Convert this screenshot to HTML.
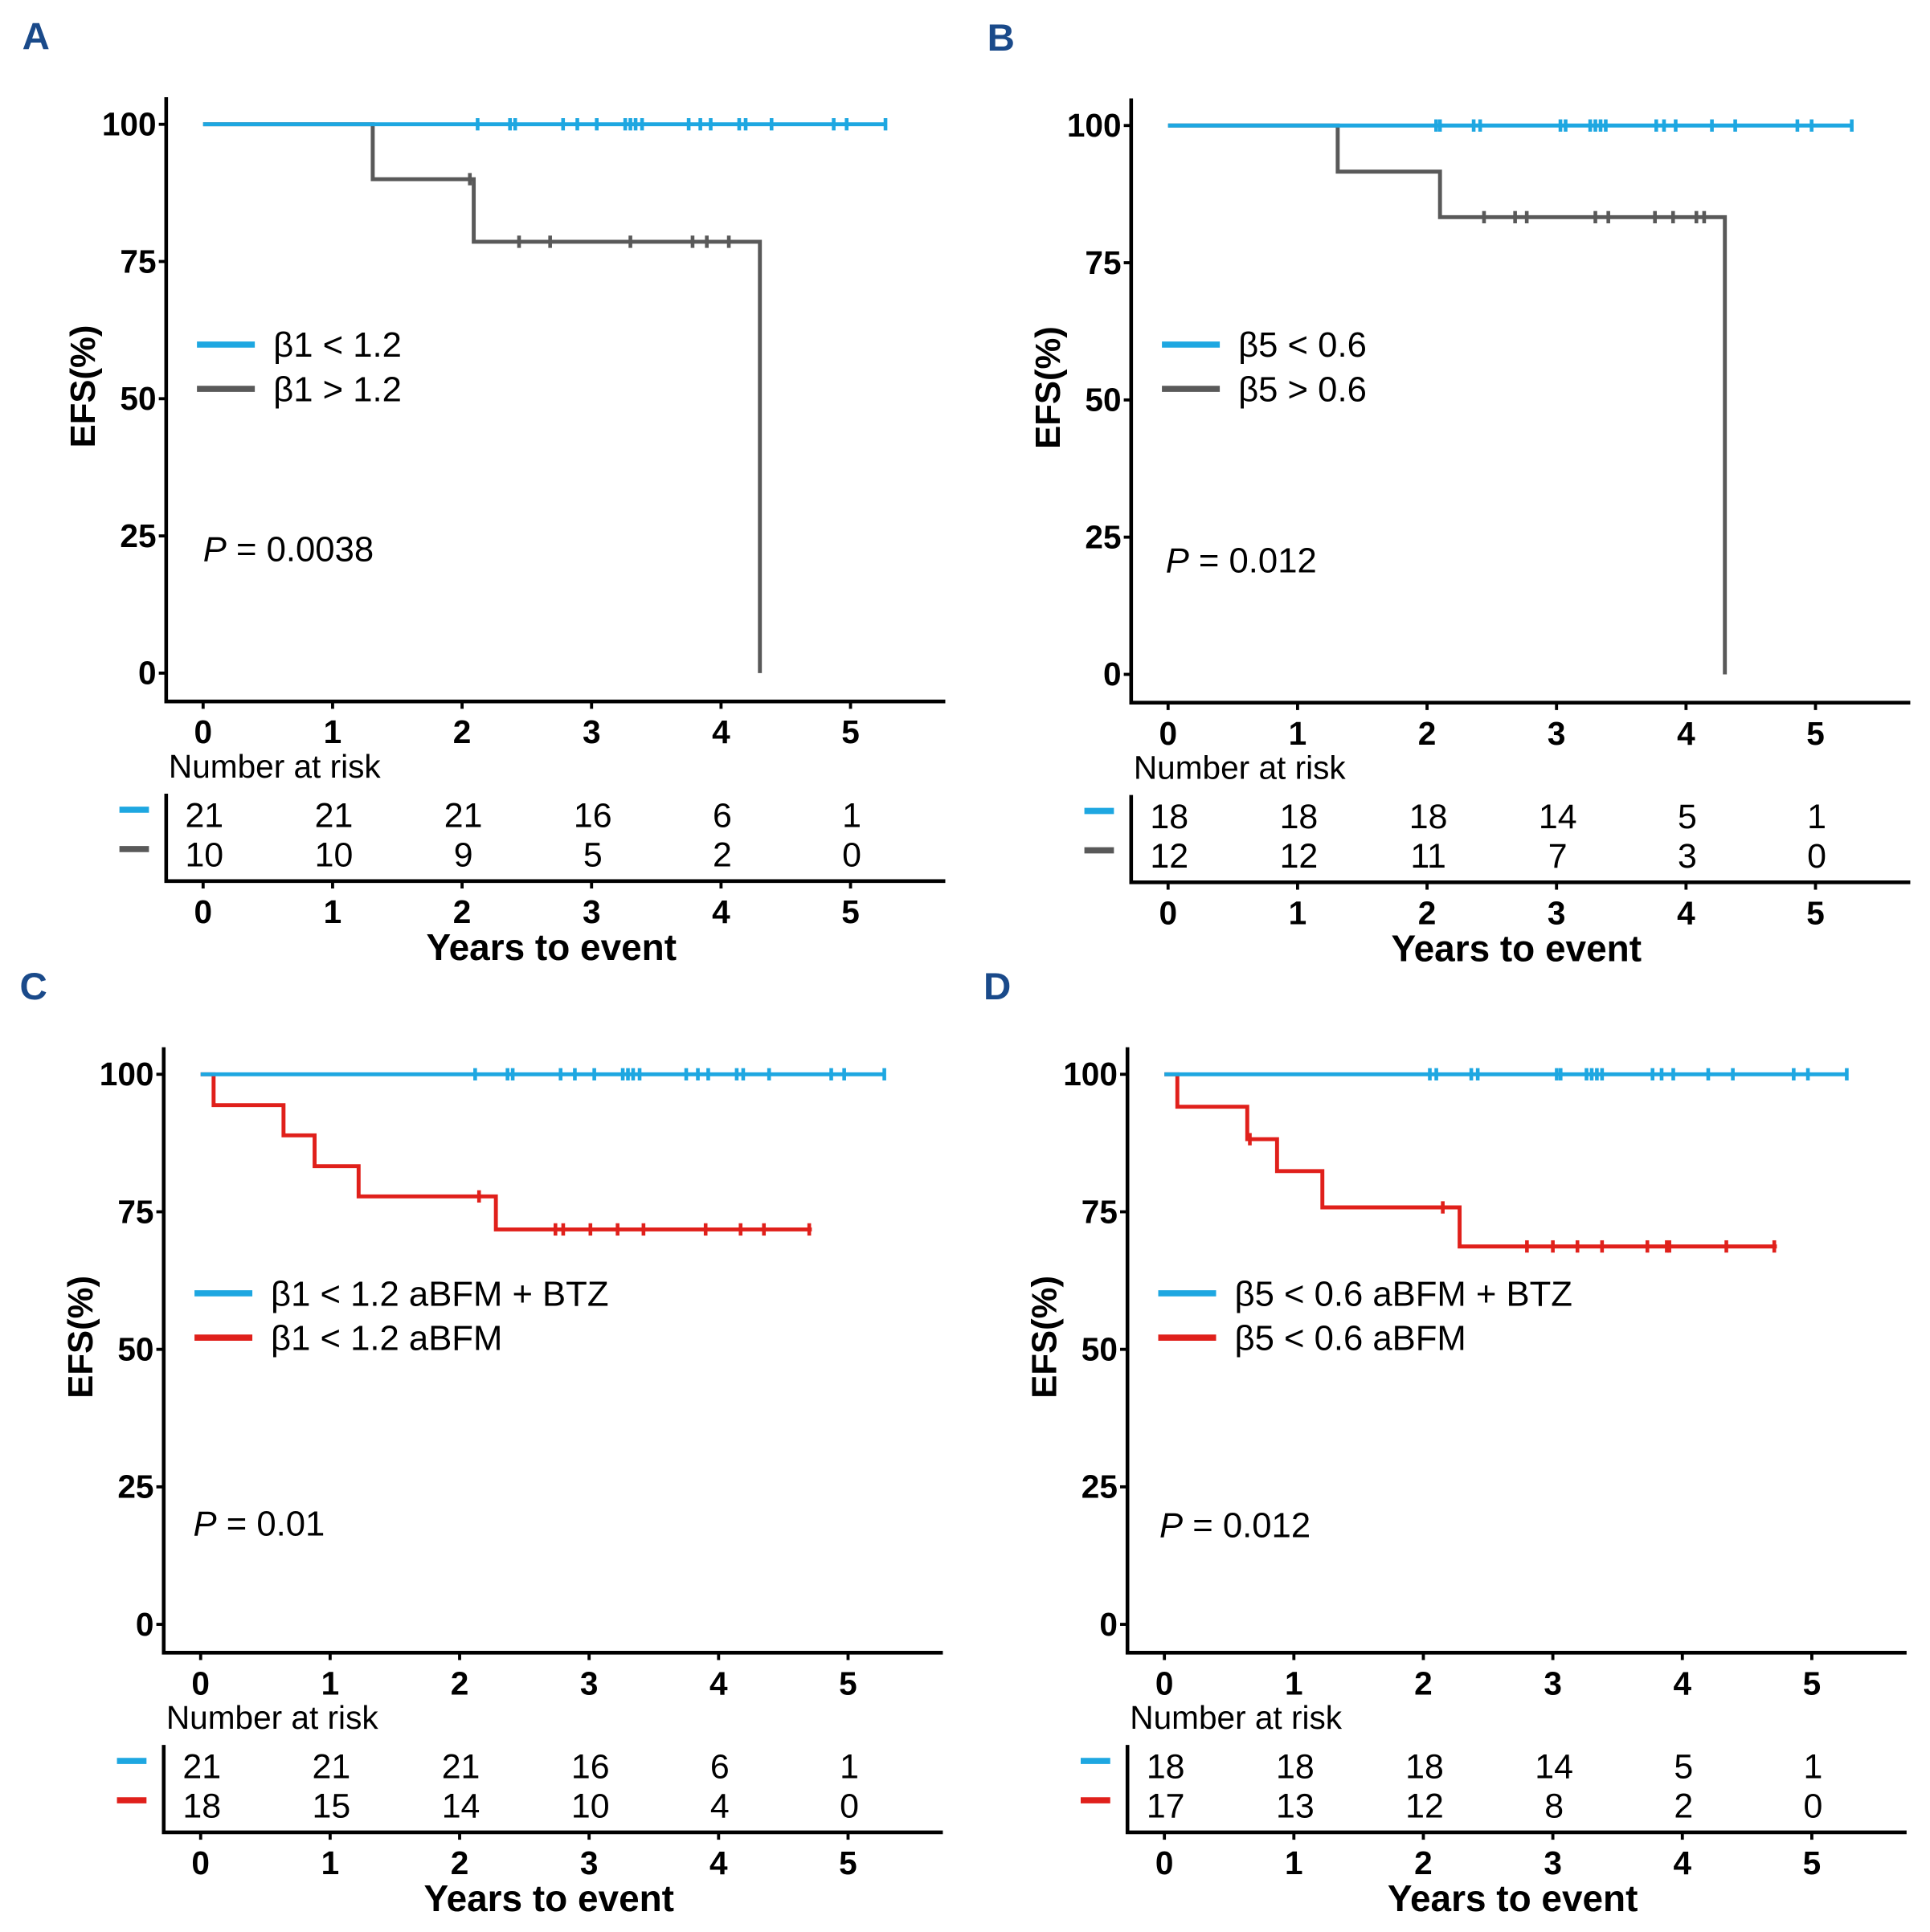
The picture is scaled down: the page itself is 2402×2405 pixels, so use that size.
<!DOCTYPE html>
<html><head><meta charset="utf-8"><style>
html,body{margin:0;padding:0;background:#fff}
svg{display:block}
text{font-family:"Liberation Sans",Arial,sans-serif}
</style></head><body>
<svg id="chart" width="2402" height="2405" viewBox="0 0 1568 1570" xmlns="http://www.w3.org/2000/svg"></svg>
<script>
// Panel A
const aBlueSteps=[[0,100],[5.27,100]];
const aBlueCens=[2.12,2.37,2.41,2.78,2.89,3.04,3.26,3.3,3.34,3.39,3.75,3.84,3.92,4.14,4.19,4.39,4.87,4.97,5.27];
const aGraySteps=[[0,100],[1.31,90],[2.09,78.6],[4.3,0]];
const aGrayCens=[2.06,2.44,2.68,3.3,3.78,3.89,4.06];
const aRisk1=[21,21,21,16,6,1];
const aRisk2=[10,10,9,5,2,0];
// Panel B
const bBlueSteps=[[0,100],[5.28,100]];
const bBlueCens=[2.07,2.1,2.36,2.41,3.03,3.07,3.26,3.3,3.34,3.38,3.77,3.83,3.92,4.2,4.38,4.86,4.97,5.28];
const bGraySteps=[[0,100],[1.31,91.6],[2.1,83.3],[4.3,0]];
const bGrayCens=[2.44,2.68,2.77,3.3,3.4,3.76,3.9,4.08,4.14];
const bRisk1=[18,18,18,14,5,1];
const bRisk2=[12,12,11,7,3,0];
// Panel C
const cBlueSteps=[[0,100],[5.28,100]];
const cBlueCens=[2.12,2.37,2.41,2.78,2.89,3.04,3.26,3.3,3.34,3.39,3.75,3.84,3.92,4.14,4.19,4.39,4.87,4.97,5.28];
const cRedSteps=[[0,100],[0.1,94.4],[0.64,88.9],[0.88,83.3],[1.22,77.8],[2.28,71.8],[4.72,71.8]];
const cRedCens=[2.15,2.74,2.8,3.01,3.22,3.42,3.9,4.17,4.35,4.7];
const cRisk1=[21,21,21,16,6,1];
const cRisk2=[18,15,14,10,4,0];
// Panel D
const dBlueSteps=[[0,100],[5.27,100]];
const dBlueCens=[2.05,2.1,2.37,2.42,3.03,3.06,3.26,3.3,3.34,3.38,3.77,3.84,3.93,4.2,4.39,4.86,4.97,5.27];
const dRedSteps=[[0,100],[0.1,94.1],[0.64,88.2],[0.87,82.4],[1.22,75.8],[2.28,68.7],[4.73,68.7]];
const dRedCens=[0.66,2.15,2.8,3.0,3.19,3.38,3.73,3.88,3.9,4.34,4.71];
const dRisk1=[18,18,18,14,5,1];
const dRisk2=[17,13,12,8,2,0];
const xTicks=[0,1,2,3,4,5];
const yTicks=[0,25,50,75,100];

const NS="http://www.w3.org/2000/svg";
const svg=document.getElementById('chart');
function mk(tag,attrs,parent){const e=document.createElementNS(NS,tag);for(const k in attrs)e.setAttribute(k,attrs[k]);(parent||svg).appendChild(e);return e;}
const BLUE='#1ea7e1',GRAY='#595959',RED='#e0201b';

function panel(o){
  const g=mk('g',{});
  
  
  const x0=o.x0, y100=o.y100, y0=o.y0;
  const xs=v=>x0+v*105.2;
  const ys=v=>y0-(y0-y100)*v/100;
  const ax=x0-30, axB=y0+23;
  const lab=mk('text',{x:o.x0-147,y:y100-61,'font-size':31,'font-weight':'bold',fill:'#1a4a8a'},g);lab.textContent=o.id;
  
  const ya=mk('path',{d:`M${ax} ${y100-22}V${axB}H${ax+633}`,stroke:'#000','stroke-width':3,fill:'none'},g);
  
  yTicks.forEach(t=>{
    mk('line',{x1:ax-6,x2:ax,y1:ys(t),y2:ys(t),stroke:'#000','stroke-width':2.5},g);
    const tt=mk('text',{x:ax-8,y:ys(t)+9,'font-size':26.5,'font-weight':'bold','text-anchor':'end'},g);tt.textContent=t;
    
  });
  xTicks.forEach(t=>{
    mk('line',{x1:xs(t),x2:xs(t),y1:axB,y2:axB+6,stroke:'#000','stroke-width':2.5},g);
    const tt=mk('text',{x:xs(t),y:axB+34,'font-size':26.5,'font-weight':'bold','text-anchor':'middle'},g);tt.textContent=t;
    
  });
  const yl=mk('text',{transform:`translate(${ax-58},${(y100+y0)/2-10}) rotate(-90)`,'font-size':28.5,'font-weight':'bold','text-anchor':'middle'},g);yl.textContent='EFS(%)';
  
  [[o.s2,o.c2,o.col2,'series-2'],[o.s1,o.c1,BLUE,'series-1']].forEach(([st,ce,col,nm])=>{
    let d=`M${xs(st[0][0])} ${ys(st[0][1])}`;
    for(let i=1;i<st.length;i++){d+=`H${xs(st[i][0])}V${ys(st[i][1])}`;}
    const p=mk('path',{d,stroke:col,'stroke-width':3.2,fill:'none'},g);
    
    ce.forEach(c=>{
      let yv=st[0][1];for(const s of st){if(s[0]<=c)yv=s[1];}
      const m=mk('line',{x1:xs(c),x2:xs(c),y1:ys(yv)-5,y2:ys(yv)+5,stroke:col,'stroke-width':3},g);
      
    });
  });
  [[o.l1,BLUE,0],[o.l2,o.col2,36]].forEach(([t,col,dy])=>{
    const ly=o.legY+dy;
    const ll=mk('line',{x1:x0-5,x2:x0+42,y1:ly,y2:ly,stroke:col,'stroke-width':5},g);
    
    const lt=mk('text',{x:x0+57,y:ly+10,'font-size':28.5},g);lt.textContent=t;
    
  });
  const pt=mk('text',{x:x0+o.pdx,y:o.pY,'font-size':28.5},g);
  pt.innerHTML='<tspan font-style="italic">P</tspan> = '+o.p;
  
  const nr=mk('text',{x:ax+2,y:axB+62,'font-size':26.5},g);nr.textContent='Number at risk';
  
  const rt=axB+75, rb=axB+146;
  mk('path',{d:`M${ax} ${rt}V${rb}H${ax+633}`,stroke:'#000','stroke-width':3,fill:'none'},g);
  [[o.r1,BLUE,0],[o.r2,o.col2,32]].forEach(([r,col,dy])=>{
    const ry=axB+88+dy;
    mk('line',{x1:ax-38,x2:ax-14,y1:ry,y2:ry,stroke:col,'stroke-width':5},g);
    r.forEach((v,i)=>{
      const t=mk('text',{x:xs(xTicks[i])+1,y:ry+14,'font-size':28,'text-anchor':'middle'},g);t.textContent=v;
      
    });
  });
  xTicks.forEach(t=>{
    mk('line',{x1:xs(t),x2:xs(t),y1:rb,y2:rb+6,stroke:'#000','stroke-width':2.5},g);
    const tt=mk('text',{x:xs(t),y:rb+34,'font-size':26.5,'font-weight':'bold','text-anchor':'middle'},g);tt.textContent=t;
    
  });
  const xt=mk('text',{x:ax+313,y:rb+64,'font-size':30,'font-weight':'bold','text-anchor':'middle'},g);xt.textContent='Years to event';
  
}
panel({id:'A',x0:165,y100:101,y0:547,s1:aBlueSteps,c1:aBlueCens,s2:aGraySteps,c2:aGrayCens,col2:GRAY,l1:'β1 < 1.2',l2:'β1 > 1.2',legY:280,pY:456,pdx:0,p:'0.0038',r1:aRisk1,r2:aRisk2});
panel({id:'B',x0:949,y100:102,y0:548,s1:bBlueSteps,c1:bBlueCens,s2:bGraySteps,c2:bGrayCens,col2:GRAY,l1:'β5 < 0.6',l2:'β5 > 0.6',legY:280,pY:465,pdx:-2,p:'0.012',r1:bRisk1,r2:bRisk2});
panel({id:'C',x0:163,y100:873,y0:1320,s1:cBlueSteps,c1:cBlueCens,s2:cRedSteps,c2:cRedCens,col2:RED,l1:'β1 < 1.2 aBFM + BTZ',l2:'β1 < 1.2 aBFM',legY:1051,pY:1248,pdx:-6,p:'0.01',r1:cRisk1,r2:cRisk2});
panel({id:'D',x0:946,y100:873,y0:1320,s1:dBlueSteps,c1:dBlueCens,s2:dRedSteps,c2:dRedCens,col2:RED,l1:'β5 < 0.6 aBFM + BTZ',l2:'β5 < 0.6 aBFM',legY:1051,pY:1249,pdx:-4,p:'0.012',r1:dRisk1,r2:dRisk2});
</script>
</body></html>
